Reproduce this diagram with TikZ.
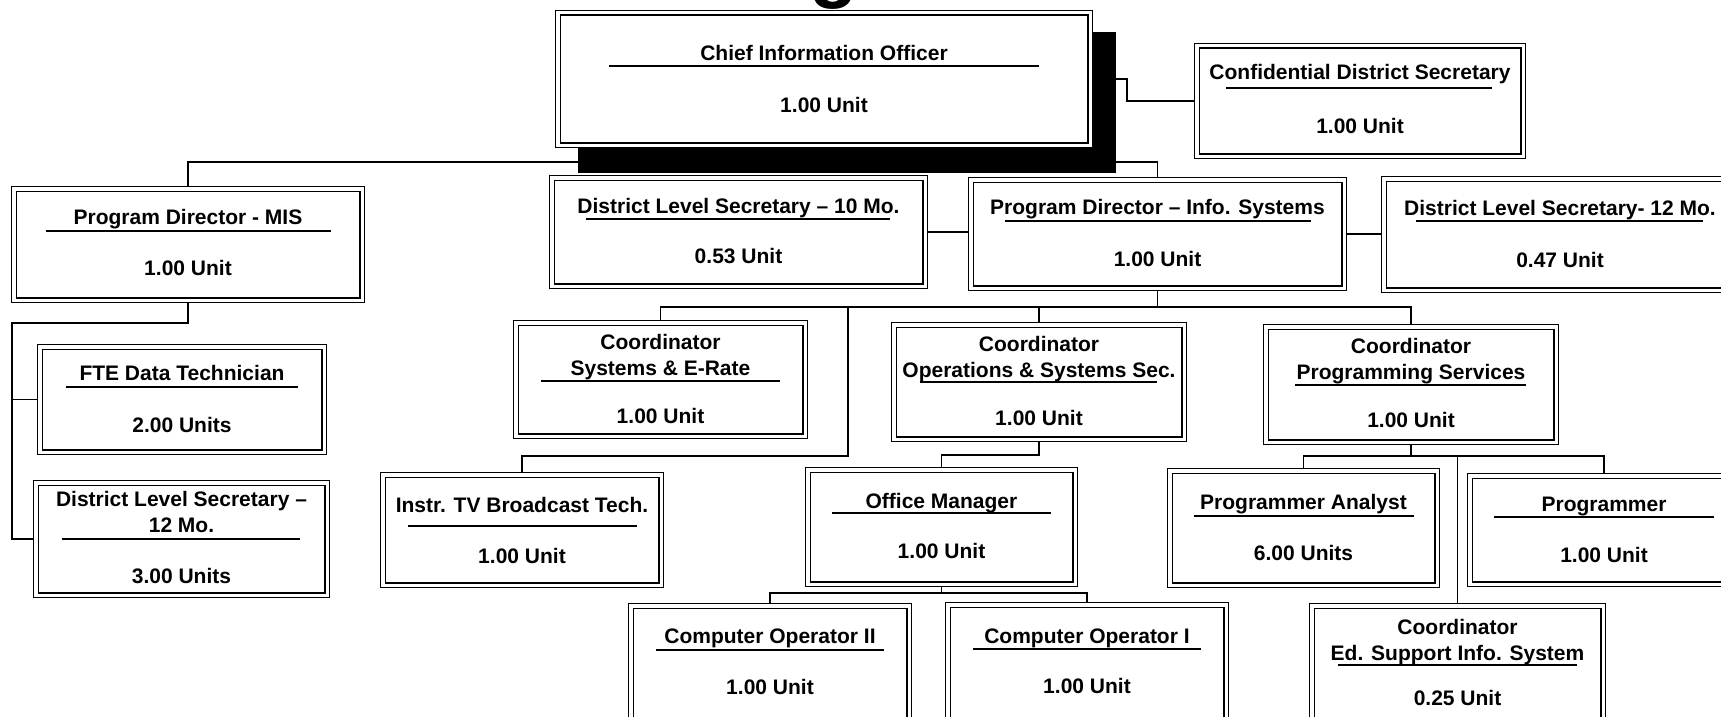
\documentclass[tikz,border=0pt]{standalone}
\usepackage{fontspec}
\setmainfont{Liberation Sans}
\usetikzlibrary{fit}
\pgfdeclarelayer{bg}
\pgfdeclarelayer{shadowlayer}
\pgfsetlayers{bg,shadowlayer,main}
\newcommand\obox[9]{%
  \node[orgbox, fit={(#2+2.8,#3+2.8) (#4-2.8,#5-2.8)}] (#1) {};
  \node[ttl] (#1-t) at (#1.center |- 0,#7) {#6};
  \node[ttl] (#1-u) at (#1.center |- 0,#9) {#8};
}
\begin{document}
\begin{tikzpicture}[x=1pt,y=-1pt,
  orgbox/.style={draw=black, double=white, double distance=3.4pt, line width=1.1pt, fill=white, inner sep=0pt},
  ttl/.style={anchor=base, inner sep=0pt, font=\fontsize{21}{26}\selectfont\bfseries, align=center},
  uline/.style={line width=1.4pt},
  conn/.style={line width=1.5pt},
  shadowbox/.style={fill=black}]
\useasboundingbox (0,0) rectangle (1721,717);
\clip (0,0) rectangle (1721,717);

% partial title letter
\node[anchor=base, inner sep=0pt, font=\fontsize{80}{80}\selectfont\bfseries] (title) at (834,-7) {g};

% boxes (two-line titles: the given baseline is that of the last line)
\obox{cio}{555}{10}{1093}{148}{Chief Information Officer}{60}{1.00 Unit}{112}
\obox{cds}{1194}{43}{1526}{159}{Confidential District Secretary}{80}{1.00 Unit}{133}
\obox{mis}{11}{186}{365}{303}{Program Director - MIS}{224}{1.00 Unit}{275}
\obox{fte}{37}{344}{327}{455}{FTE Data Technician}{380}{2.00 Units}{432}
\obox{dlsl}{33}{480}{330}{598}{District Level Secretary –\\12 Mo.}{532}{3.00 Units}{583}
\obox{dls10}{549}{175}{928}{289}{District Level Secretary – 10 Mo.}{213}{0.53 Unit}{263}
\obox{pdis}{968}{177}{1347}{291}{Program Director – Info. Systems}{214}{1.00 Unit}{266}
\obox{dlsr}{1381}{176}{1739}{293}{District Level Secretary- 12 Mo.}{215}{0.47 Unit}{267}
\obox{cse}{513}{320}{808}{439}{Coordinator\\Systems \& E-Rate}{375}{1.00 Unit}{423}
\obox{cops}{891}{322}{1187}{442}{Coordinator\\Operations \& Systems Sec.}{377}{1.00 Unit}{425}
\obox{cps}{1263}{324}{1559}{445}{Coordinator\\Programming Services}{379}{1.00 Unit}{427}
\obox{itv}{380}{472}{664}{588}{Instr. TV Broadcast Tech.}{512}{1.00 Unit}{563}
\obox{om}{805}{467}{1078}{587}{Office Manager}{508}{1.00 Unit}{558}
\obox{co2}{628}{603}{912}{730}{Computer Operator II}{643}{1.00 Unit}{694}
\obox{co1}{945}{602}{1229}{730}{Computer Operator I}{643}{1.00 Unit}{693}
\obox{pa}{1167}{468}{1440}{588}{Programmer Analyst}{509}{6.00 Units}{560}
\obox{prg}{1467}{473}{1741}{587}{Programmer}{511}{1.00 Unit}{562}
\obox{eds}{1309}{603}{1606}{735}{Coordinator\\Ed. Support Info. System}{660}{0.25 Unit}{705}

% underlines
\draw[uline] (609,66) -- (1039,66);
\draw[uline] (1226,88) -- (1492,88);
\draw[uline] (46,231) -- (331,231);
\draw[uline] (66,387) -- (298,387);
\draw[uline] (62,539) -- (300,539);
\draw[uline] (586,219) -- (890,219);
\draw[uline] (1005,221) -- (1311,221);
\draw[uline] (1416,221) -- (1703,221);
\draw[uline] (541,381) -- (780,381);
\draw[uline] (920,382) -- (1157,382);
\draw[uline] (1295,385) -- (1526,385);
\draw[uline] (408,526) -- (637,526);
\draw[uline] (832,513) -- (1051,513);
\draw[uline] (656,650) -- (884,650);
\draw[uline] (973,649) -- (1201,649);
\draw[uline] (1194,516) -- (1414,516);
\draw[uline] (1494,517) -- (1714,517);
\draw[uline] (1338,665) -- (1577,665);

% shadow of the chief box
\begin{pgfonlayer}{shadowlayer}
\fill[shadowbox] (578,32) rectangle (1116,173);
\end{pgfonlayer}

% connectors
\begin{pgfonlayer}{bg}
\coordinate (bus) at (824,162);
\draw[conn] (cio.south) -- (bus);
\draw[conn] (mis.north) |- (bus) -| (pdis.north);
\draw[conn] (cio.east) -- (1127,79) |- (cds.west);
\draw[conn] (dls10.east) -- (dls10.east -| pdis.west);
\draw[conn] (pdis.east) -- (pdis.east -| dlsr.west);
\coordinate (misb) at (188,323);
\draw[conn] (mis.south) -- (misb) -- (12,323) |- (dlsl.west);
\draw[conn] (fte.west -| 12,0) -- (fte.west);
\coordinate (pdb) at (1157.5,307);
\draw[conn] (pdis.south) -- (pdb);
\draw[conn] (cse.north) |- (pdb) -| (cps.north);
\draw[conn] (cops.north) -- (cops.north |- pdb);
\coordinate (itvb) at (848,307);
\draw[conn] (itvb) -- (848,456) -| (itv.north);
\coordinate (cob) at (1039,455);
\draw[conn] (cops.south) -- (cob) -| (om.north);
\coordinate (omb) at (941.5,593);
\draw[conn] (om.south) -- (omb);
\draw[conn] (co2.north) |- (omb) -| (co1.north);
\coordinate (cpb) at (1411,456);
\draw[conn] (cps.south) -- (cpb);
\draw[conn] (pa.north) |- (cpb) -| (prg.north);
\draw[conn] (eds.north) -- (eds.north |- cpb);
\end{pgfonlayer}
\end{tikzpicture}
\end{document}
